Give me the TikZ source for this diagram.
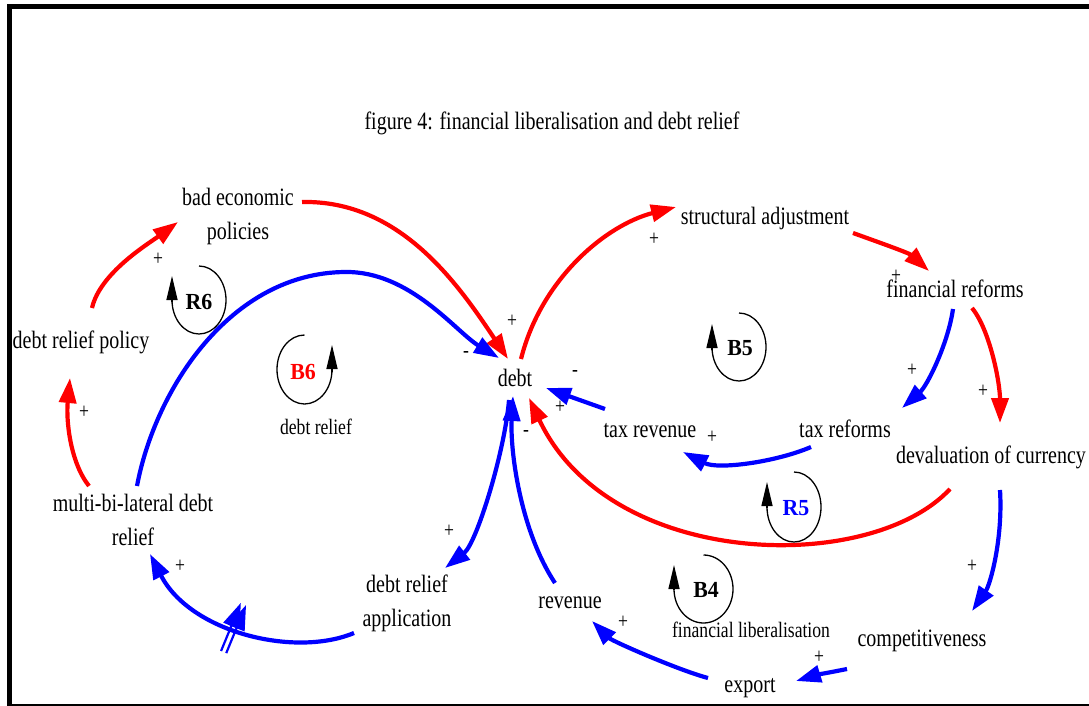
\documentclass[tikz,border=0pt]{standalone}
\usepackage{fontspec}
\setmainfont{Liberation Serif}[FakeStretch=0.8]
\newfontfamily\loopfont{Liberation Serif}[FakeStretch=0.95]
\usetikzlibrary{arrows.meta,decorations.markings}
\definecolor{cldred}{RGB}{255,0,0}
\definecolor{cldblue}{RGB}{0,0,255}
\begin{document}
\begin{tikzpicture}[x=1pt,y=-1pt,
  lab/.style={font=\fontsize{25}{34}\selectfont, inner sep=0pt},
  labtwo/.style={font=\fontsize{25}{34}\selectfont, inner sep=0pt, align=center},
  smalllab/.style={font=\fontsize{22}{26}\selectfont, inner sep=0pt},
  sgn/.style={font=\fontsize{22}{22}\selectfont, inner sep=0pt},
  looplab/.style={font=\loopfont\bfseries\fontsize{23}{23}\selectfont, inner sep=0pt},
  redc/.style={draw=cldred, color=cldred, line width=4.2pt, -{Triangle[length=25pt,width=17pt]}},
  bluec/.style={draw=cldblue, color=cldblue, line width=4.2pt, -{Triangle[length=25pt,width=17pt]}},
  loopln/.style={draw=black, line width=1.3pt},
  looparr/.style={draw=black, line width=1.3pt, -{Triangle[length=24pt,width=11pt]}},
  hatch/.style={draw=cldblue, line width=2.2pt}
]
\useasboundingbox (0,0) rectangle (1089,706);
\fill[white] (0,0) rectangle (1089,706);
% frame
\draw[line width=5pt] (9.5,706) -- (9.5,6.5) -- (1089,6.5);
\draw[line width=1.5pt] (9.5,705) -- (1089,705);

% nodes
\node[lab, anchor=base] (title) at (552,130) {figure 4: financial liberalisation and debt relief};
\node[labtwo] (bad) at (238,216) {bad economic\\policies};
\node[lab, anchor=base] (policy) at (81,348) {debt relief policy};
\node[labtwo] (multi) at (133,520) {multi-bi-lateral debt\\relief};
\node[labtwo] (app) at (407,603) {debt relief\\application};
\node[lab, anchor=base] (debt) at (515,386) {debt};
\node[lab, anchor=base] (taxrev) at (650,437) {tax revenue};
\node[lab, anchor=base] (taxref) at (845,437) {tax reforms};
\node[lab, anchor=base] (deval) at (991,463) {devaluation of currency};
\node[lab, anchor=base] (struct) at (765,224) {structural adjustment};
\node[lab, anchor=base] (fin) at (955,297) {financial reforms};
\node[lab, anchor=base] (comp) at (922,646) {competitiveness};
\node[lab, anchor=base] (export) at (750,692) {export};
\node[lab, anchor=base] (revenue) at (570,608) {revenue};
\node[smalllab, anchor=base] (drl) at (316,434) {debt relief};
\node[smalllab, anchor=base] (fll) at (751,637) {financial liberalisation};

% connectors
\draw[redc] ([shift={(11,-40)}]policy.base) .. controls +(8,-35) and +(-30,22) .. ([shift={(-60,6)}]bad.center);
\draw[redc] ([shift={(64,-14)}]bad.center) .. controls +(98,-2) and +(-50,-75) .. ([shift={(-7,-27)}]debt.base);
\draw[bluec] ([shift={(4,-34)}]multi.center) .. controls +(18,-96) and (230,273) .. (345,272) .. controls (410,271) and +(-43,-26) .. ([shift={(-16,-28)}]debt.base);
\draw[redc] ([shift={(6,-27)}]debt.base) .. controls +(20,-80) and +(-70,18) .. ([shift={(-89,-17)}]struct.base);
\draw[redc] ([shift={(88,9)}]struct.base) .. controls +(25,9) and +(-20,-18) .. ([shift={(-26,-26)}]fin.base);
\draw[bluec] ([shift={(-2,12)}]fin.base) .. controls +(-5,35) and +(25,-22) .. ([shift={(57,-29)}]taxref.base);
\draw[redc] ([shift={(17,11)}]fin.base) .. controls +(18,22) and +(0,-40) .. ([shift={(9,-40)}]deval.base);
\draw[bluec] ([shift={(-34,10)}]taxref.base) .. controls +(-35,15) and +(35,18) .. ([shift={(33,15)}]taxrev.base);
\draw[bluec] ([shift={(-45,-28)}]taxrev.base) -- ([shift={(31,2)}]debt.base);
\draw[redc] ([shift={(-41,26)}]deval.base) .. controls +(-80,86) and +(81,172) .. ([shift={(14,12)}]debt.base);
\draw[bluec] ([shift={(9,27)}]deval.base) .. controls +(3,50) and +(18,-26) .. ([shift={(50,-35)}]comp.base);
\draw[bluec] ([shift={(-75,23)}]comp.base) .. controls +(-15,3) and +(20,-6) .. ([shift={(46,-11)}]export.base);
\draw[bluec] ([shift={(-42,-14)}]export.base) .. controls +(-30,-8) and +(20,20) .. ([shift={(22,13)}]revenue.base);
\draw[bluec] ([shift={(-15,-25)}]revenue.base) .. controls +(-35,-53) and +(-3,54) .. ([shift={(-2,10)}]debt.base);
\draw[bluec] ([shift={(-6,14)}]debt.base) .. controls +(-4,50) and +(32,-25) .. ([shift={(38,-35)}]app.center);
\draw[bluec, postaction={decorate, decoration={markings, mark=at position 0.52 with {\draw[hatch] (-2.8,-26) -- (-2.8,26); \draw[hatch] (2.8,-26) -- (2.8,26);}}}] ([shift={(-53,30)}]app.center) .. controls +(-60,25) and +(40,78) .. ([shift={(17,34)}]multi.center);
\draw[redc] ([shift={(-44,-34)}]multi.center) .. controls +(-19,-24) and +(-4,42) .. ([shift={(-11,30)}]policy.base);

% signs
\node[sgn] (s1) at (158,259) {+};
\node[sgn] (s2) at (84,412) {+};
\node[sgn] (s3) at (180,566) {+};
\node[sgn] (s4) at (449,531) {+};
\node[sgn] (s5) at (466,354) {-};
\node[sgn] (s6) at (512,321) {+};
\node[sgn] (s7) at (654,239) {+};
\node[sgn] (s8) at (896,276) {+};
\node[sgn] (s9) at (912,370) {+};
\node[sgn] (s10) at (983,391) {+};
\node[sgn] (s11) at (575,373) {-};
\node[sgn] (s12) at (560,407) {+};
\node[sgn] (s13) at (526,433) {-};
\node[sgn] (s14) at (712,437) {+};
\node[sgn] (s15) at (972,566) {+};
\node[sgn] (s16) at (819,657) {+};
\node[sgn] (s17) at (623,622) {+};

% loop symbols
\draw[loopln] (199,266) arc[start angle=-90, end angle=180, x radius=27, y radius=34];
\draw[looparr] (172,302) -- (172,276);
\node[looplab] (r6) at (199,302) {R6};

\draw[loopln] (304.5,335) arc[start angle=-90, end angle=-360, x radius=27.5, y radius=34.5];
\draw[looparr] (332,372) -- (332,345);
\node[looplab, text=cldred] (b6) at (303,372) {B6};

\draw[loopln] (739,313) arc[start angle=-90, end angle=180, x radius=27, y radius=34];
\draw[looparr] (712,350) -- (712,324);
\node[looplab] (b5) at (740,348) {B5};

\draw[loopln] (794,472) arc[start angle=-90, end angle=180, x radius=27, y radius=35];
\draw[looparr] (767,508) -- (767,482);
\node[looplab, text=cldblue] (r5) at (796,508) {R5};

\draw[loopln] (703.5,555) arc[start angle=-90, end angle=180, x radius=29.5, y radius=34];
\draw[looparr] (674,590) -- (674,565);
\node[looplab] (b4) at (706,590) {B4};
\end{tikzpicture}
\end{document}
